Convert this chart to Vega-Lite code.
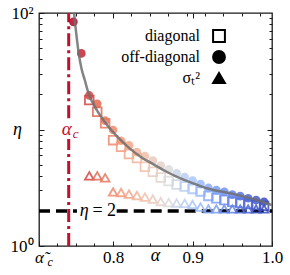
{
  "$schema": "https://vega.github.io/schema/vega-lite/v6.json",
  "width": 233,
  "height": 233,
  "autosize": "none",
  "padding": {"left": 39, "top": 13, "right": 18, "bottom": 29},
  "config": {
    "view": {"stroke": "#1a1a1a", "strokeWidth": 1.3},
    "axis": {"grid": false, "domain": false, "tickColor": "#1a1a1a", "tickWidth": 1, "labelFont": "Liberation Serif", "titleFont": "Liberation Serif", "labelColor": "black", "titleColor": "black", "labelFontSize": 17, "titleFontSize": 18, "titleFontWeight": "normal"},
    "legend": {"labelFont": "Liberation Serif"},
    "text": {"font": "Liberation Serif"}
  },
  "resolve": {"axis": {"x": "independent", "y": "independent"}, "scale": {"shape": "independent", "fill": "independent", "stroke": "independent"}},
  "layer": [
    {
      "data": {"values": [{"alpha": 0.7441, "lo": 1, "hi": 8.3}, {"alpha": 0.7441, "lo": 12.5, "hi": 100}]},
      "mark": {"type": "rule", "color": "#c0102e", "strokeWidth": 3, "strokeDash": [13, 4, 3, 4]},
      "encoding": {
        "x": {"field": "alpha", "type": "quantitative", "scale": {"domain": [0.7067, 1.0], "nice": false, "zero": false},
              "axis": {"orient": "bottom", "values": [0.7299, 0.7531, 0.7763, 0.7996, 0.8228, 0.846, 0.8692, 0.8924, 0.9157, 0.9389, 0.9621, 0.9853], "labels": false, "tickSize": -3, "title": null}},
        "y": {"field": "lo", "type": "quantitative", "scale": {"type": "log", "domain": [1, 100], "nice": false},
              "axis": {"orient": "left", "values": [2, 3, 4, 5, 6, 7, 8, 9, 20, 30, 40, 50, 60, 70, 80, 90], "labels": false, "tickSize": -3, "title": null}},
        "y2": {"field": "hi"}
      }
    },
    {
      "data": {"values": [{"a0": 0.7067, "a1": 0.7545, "eta": 2}, {"a0": 0.8045, "a1": 1.0, "eta": 2}]},
      "mark": {"type": "rule", "color": "black", "strokeWidth": 3.5, "strokeDash": [11, 6]},
      "encoding": {
        "x": {"field": "a0", "type": "quantitative", "scale": {"domain": [0.7067, 1.0], "nice": false, "zero": false},
              "axis": {"orient": "top", "values": [0.7299, 0.7531, 0.7763, 0.7996, 0.8228, 0.846, 0.8692, 0.8924, 0.9157, 0.9389, 0.9621, 0.9853], "labels": false, "tickSize": -3, "title": null}},
        "x2": {"field": "a1"},
        "y": {"field": "eta", "type": "quantitative", "scale": {"type": "log", "domain": [1, 100], "nice": false},
              "axis": {"orient": "right", "values": [2, 3, 4, 5, 6, 7, 8, 9, 20, 30, 40, 50, 60, 70, 80, 90], "labels": false, "tickSize": -3, "title": null}}
      }
    },
    {
      "data": {"values": [
        {"kind": "off-diagonal", "alpha": 0.75, "eta": 84},
        {"kind": "off-diagonal", "alpha": 0.76, "eta": 45},
        {"kind": "off-diagonal", "alpha": 0.77, "eta": 19.6},
        {"kind": "off-diagonal", "alpha": 0.78, "eta": 16.6},
        {"kind": "off-diagonal", "alpha": 0.79, "eta": 11.9},
        {"kind": "off-diagonal", "alpha": 0.80, "eta": 9.9},
        {"kind": "off-diagonal", "alpha": 0.81, "eta": 8.0},
        {"kind": "off-diagonal", "alpha": 0.82, "eta": 7.3},
        {"kind": "off-diagonal", "alpha": 0.83, "eta": 6.4},
        {"kind": "off-diagonal", "alpha": 0.84, "eta": 5.9},
        {"kind": "off-diagonal", "alpha": 0.85, "eta": 5.4},
        {"kind": "off-diagonal", "alpha": 0.86, "eta": 4.9},
        {"kind": "off-diagonal", "alpha": 0.87, "eta": 4.55},
        {"kind": "off-diagonal", "alpha": 0.88, "eta": 4.2},
        {"kind": "off-diagonal", "alpha": 0.89, "eta": 3.9},
        {"kind": "off-diagonal", "alpha": 0.90, "eta": 3.65},
        {"kind": "off-diagonal", "alpha": 0.91, "eta": 3.4},
        {"kind": "off-diagonal", "alpha": 0.92, "eta": 3.15},
        {"kind": "off-diagonal", "alpha": 0.93, "eta": 3.02},
        {"kind": "off-diagonal", "alpha": 0.94, "eta": 2.92},
        {"kind": "off-diagonal", "alpha": 0.95, "eta": 2.76},
        {"kind": "off-diagonal", "alpha": 0.96, "eta": 2.68},
        {"kind": "off-diagonal", "alpha": 0.97, "eta": 2.57},
        {"kind": "off-diagonal", "alpha": 0.98, "eta": 2.48},
        {"kind": "off-diagonal", "alpha": 0.99, "eta": 2.40},
        {"kind": "diagonal", "alpha": 0.77, "eta": 17.9},
        {"kind": "diagonal", "alpha": 0.78, "eta": 14.2},
        {"kind": "diagonal", "alpha": 0.79, "eta": 11.3},
        {"kind": "diagonal", "alpha": 0.80, "eta": 8.1},
        {"kind": "diagonal", "alpha": 0.81, "eta": 7.1},
        {"kind": "diagonal", "alpha": 0.82, "eta": 6.16},
        {"kind": "diagonal", "alpha": 0.83, "eta": 5.69},
        {"kind": "diagonal", "alpha": 0.84, "eta": 4.79},
        {"kind": "diagonal", "alpha": 0.85, "eta": 4.34},
        {"kind": "diagonal", "alpha": 0.86, "eta": 3.87},
        {"kind": "diagonal", "alpha": 0.87, "eta": 3.61},
        {"kind": "diagonal", "alpha": 0.88, "eta": 3.37},
        {"kind": "diagonal", "alpha": 0.89, "eta": 3.24},
        {"kind": "diagonal", "alpha": 0.90, "eta": 3.09},
        {"kind": "diagonal", "alpha": 0.91, "eta": 2.94},
        {"kind": "diagonal", "alpha": 0.92, "eta": 2.69},
        {"kind": "diagonal", "alpha": 0.93, "eta": 2.57},
        {"kind": "diagonal", "alpha": 0.94, "eta": 2.48},
        {"kind": "diagonal", "alpha": 0.95, "eta": 2.40},
        {"kind": "diagonal", "alpha": 0.96, "eta": 2.34},
        {"kind": "diagonal", "alpha": 0.97, "eta": 2.29},
        {"kind": "diagonal", "alpha": 0.98, "eta": 2.25},
        {"kind": "diagonal", "alpha": 0.99, "eta": 2.21},
        {"kind": "σₜ²", "alpha": 0.77, "eta": 4.0},
        {"kind": "σₜ²", "alpha": 0.78, "eta": 4.0},
        {"kind": "σₜ²", "alpha": 0.79, "eta": 3.85},
        {"kind": "σₜ²", "alpha": 0.80, "eta": 2.91},
        {"kind": "σₜ²", "alpha": 0.81, "eta": 2.88},
        {"kind": "σₜ²", "alpha": 0.82, "eta": 2.79},
        {"kind": "σₜ²", "alpha": 0.83, "eta": 2.71},
        {"kind": "σₜ²", "alpha": 0.84, "eta": 2.63},
        {"kind": "σₜ²", "alpha": 0.85, "eta": 2.53},
        {"kind": "σₜ²", "alpha": 0.86, "eta": 2.41},
        {"kind": "σₜ²", "alpha": 0.87, "eta": 2.36},
        {"kind": "σₜ²", "alpha": 0.88, "eta": 2.34},
        {"kind": "σₜ²", "alpha": 0.89, "eta": 2.32},
        {"kind": "σₜ²", "alpha": 0.90, "eta": 2.27},
        {"kind": "σₜ²", "alpha": 0.91, "eta": 2.16},
        {"kind": "σₜ²", "alpha": 0.92, "eta": 2.08},
        {"kind": "σₜ²", "alpha": 0.93, "eta": 2.08},
        {"kind": "σₜ²", "alpha": 0.94, "eta": 2.08},
        {"kind": "σₜ²", "alpha": 0.95, "eta": 2.08},
        {"kind": "σₜ²", "alpha": 0.96, "eta": 2.08},
        {"kind": "σₜ²", "alpha": 0.97, "eta": 2.08},
        {"kind": "σₜ²", "alpha": 0.98, "eta": 2.08},
        {"kind": "σₜ²", "alpha": 0.99, "eta": 2.08}
      ]},
      "mark": {"type": "point", "opacity": 0.85, "strokeWidth": 1.8, "size": 75},
      "encoding": {
        "x": {"field": "alpha", "type": "quantitative", "scale": {"domain": [0.7067, 1.0], "nice": false, "zero": false},
              "axis": {"orient": "bottom", "values": [0.7067, 0.8, 0.9, 1.0], "tickSize": -5, "labelPadding": 8, "labelBaseline": "top", "labelFlush": false, "labelOverlap": false,
                       "labelExpr": "datum.value < 0.75 ? 'α\u0303' : format(datum.value, '.1f')",
                       "labelFontStyle": {"condition": {"test": "datum.value < 0.75", "value": "italic"}, "value": "normal"},
                       "title": "α", "titleFontStyle": "italic", "titleX": 116, "titleY": 14, "titleBaseline": "alphabetic", "titleAlign": "center"}},
        "y": {"field": "eta", "type": "quantitative", "scale": {"type": "log", "domain": [1, 100], "nice": false},
              "axis": {"orient": "left", "values": [1, 10, 100], "tickSize": -5, "labelPadding": 11, "labelFlush": false, "labelOverlap": false,
                       "labelExpr": "datum.value == 1 ? '10⁰' : (datum.value == 100 ? '10²' : '')",
                       "title": "η", "titleAngle": 0, "titleFontStyle": "italic", "titleX": -22, "titleY": 116, "titleAlign": "center", "titleBaseline": "middle"}},
        "shape": {"field": "kind", "type": "nominal",
                  "scale": {"domain": ["diagonal", "off-diagonal", "σₜ²"], "range": ["square", "circle", "triangle-up"]}, "legend": null},
        "fill": {"condition": {"test": "datum.kind !== 'off-diagonal'", "value": "transparent"},
                 "field": "alpha", "type": "quantitative",
                 "scale": {"domain": [0.75, 0.99], "range": ["#b40426", "#e26952", "#f49a7b", "#f1c0a9", "#dddcdc", "#aac7fd", "#7b9ff9", "#5875e0", "#3b4cc0"], "interpolate": "rgb"}, "legend": null},
        "stroke": {"condition": {"test": "datum.kind === 'off-diagonal'", "value": "transparent"},
                   "field": "alpha", "type": "quantitative",
                   "scale": {"domain": [0.75, 0.99], "range": ["#b40426", "#e26952", "#f49a7b", "#f1c0a9", "#dddcdc", "#aac7fd", "#7b9ff9", "#5875e0", "#3b4cc0"], "interpolate": "rgb"}, "legend": null}
      }
    },
    {
      "data": {"values": [{"kind": "diagonal"}, {"kind": "off-diagonal"}, {"kind": "σₜ²"}]},
      "mark": {"type": "point", "filled": true, "opacity": 0, "strokeWidth": 2, "size": 10},
      "encoding": {
        "shape": {"field": "kind", "type": "nominal",
                  "scale": {"domain": ["diagonal", "off-diagonal", "σₜ²"], "range": ["square", "circle", "triangle-up"]},
                  "legend": {"orient": "none", "legendX": 170, "legendY": 15, "title": null, "padding": 0,
                             "labelAlign": "right", "labelOffset": -27, "symbolOffset": 2, "symbolSize": 140, "symbolStrokeWidth": 2,
                             "symbolOpacity": 1,
                             "labelFont": "Liberation Serif", "labelFontSize": 16, "labelColor": "black", "rowPadding": 1}},
        "fill": {"field": "kind", "type": "nominal",
                 "scale": {"domain": ["diagonal", "off-diagonal", "σₜ²"], "range": ["transparent", "black", "black"]},
                 "legend": {"orient": "none", "legendX": 170, "legendY": 15, "title": null, "padding": 0,
                            "labelAlign": "right", "labelOffset": -27, "symbolOffset": 2, "symbolSize": 140, "symbolStrokeWidth": 2,
                            "symbolOpacity": 1,
                            "labelFont": "Liberation Serif", "labelFontSize": 16, "labelColor": "black", "rowPadding": 1}},
        "stroke": {"field": "kind", "type": "nominal",
                   "scale": {"domain": ["diagonal", "off-diagonal", "σₜ²"], "range": ["black", "black", "black"]},
                   "legend": {"orient": "none", "legendX": 170, "legendY": 15, "title": null, "padding": 0,
                              "labelAlign": "right", "labelOffset": -27, "symbolOffset": 2, "symbolSize": 140, "symbolStrokeWidth": 2,
                              "symbolOpacity": 1,
                              "labelFont": "Liberation Serif", "labelFontSize": 16, "labelColor": "black", "rowPadding": 1}}
      }
    },
    {
      "data": {"values": [
        {"alpha": 0.7508, "eta": 100},
        {"alpha": 0.7567, "eta": 45.1},
        {"alpha": 0.7601, "eta": 33.5},
        {"alpha": 0.7643, "eta": 26.6},
        {"alpha": 0.7685, "eta": 21.0},
        {"alpha": 0.7791, "eta": 14.8},
        {"alpha": 0.7895, "eta": 11.6},
        {"alpha": 0.8043, "eta": 8.8},
        {"alpha": 0.8211, "eta": 6.85},
        {"alpha": 0.8358, "eta": 5.75},
        {"alpha": 0.8504, "eta": 5.05},
        {"alpha": 0.8673, "eta": 4.34},
        {"alpha": 0.8841, "eta": 3.82},
        {"alpha": 0.9009, "eta": 3.45},
        {"alpha": 0.9178, "eta": 3.13},
        {"alpha": 0.9509, "eta": 2.8},
        {"alpha": 0.9934, "eta": 2.33},
        {"alpha": 1.0, "eta": 2.25}
      ]},
      "mark": {"type": "line", "color": "#6e6e6e", "strokeWidth": 2.5, "opacity": 0.85, "interpolate": "monotone", "clip": true},
      "encoding": {
        "x": {"field": "alpha", "type": "quantitative", "scale": {"domain": [0.7067, 1.0], "nice": false, "zero": false},
              "axis": {"orient": "top", "values": [0.8, 0.9], "labels": false, "tickSize": -5, "title": null}},
        "y": {"field": "eta", "type": "quantitative", "scale": {"type": "log", "domain": [1, 100], "nice": false},
              "axis": {"orient": "right", "values": [10], "labels": false, "tickSize": -5, "title": null}}
      }
    },
    {
      "data": {"values": [{"alpha": 0.7441, "eta": 10.1}]},
      "mark": {"type": "text", "text": "α", "fontStyle": "italic", "fontSize": 19, "color": "#c0102e", "dx": -2, "baseline": "middle", "align": "center"},
      "encoding": {
        "x": {"field": "alpha", "type": "quantitative", "scale": {"domain": [0.7067, 1.0], "nice": false, "zero": false},
              "axis": {"orient": "bottom", "values": [0.7067], "ticks": false, "labelExpr": "'c'", "labelFontSize": 12, "labelFontStyle": "italic", "labelOffset": 8, "labelPadding": 10, "labelBaseline": "top", "title": null}},
        "y": {"field": "eta", "type": "quantitative", "scale": {"type": "log", "domain": [1, 100], "nice": false}, "axis": null}
      }
    },
    {
      "data": {"values": [{"alpha": 0.7441, "eta": 10.1}]},
      "mark": {"type": "text", "text": "c", "fontStyle": "italic", "fontSize": 13, "color": "#c0102e", "dx": 7, "dy": 5, "baseline": "middle", "align": "center"},
      "encoding": {
        "x": {"field": "alpha", "type": "quantitative", "scale": {"domain": [0.7067, 1.0], "nice": false, "zero": false}, "axis": null},
        "y": {"field": "eta", "type": "quantitative", "scale": {"type": "log", "domain": [1, 100], "nice": false}, "axis": null}
      }
    },
    {
      "data": {"values": [{"alpha": 0.78, "eta": 2}]},
      "mark": {"type": "text", "text": "η", "fontStyle": "italic", "fontSize": 18, "color": "black", "dx": -13, "baseline": "middle", "align": "center"},
      "encoding": {
        "x": {"field": "alpha", "type": "quantitative", "scale": {"domain": [0.7067, 1.0], "nice": false, "zero": false}, "axis": null},
        "y": {"field": "eta", "type": "quantitative", "scale": {"type": "log", "domain": [1, 100], "nice": false}, "axis": null}
      }
    },
    {
      "data": {"values": [{"alpha": 0.78, "eta": 2}]},
      "mark": {"type": "text", "text": "= 2", "fontSize": 18, "color": "black", "dx": 7, "baseline": "middle", "align": "center"},
      "encoding": {
        "x": {"field": "alpha", "type": "quantitative", "scale": {"domain": [0.7067, 1.0], "nice": false, "zero": false}, "axis": null},
        "y": {"field": "eta", "type": "quantitative", "scale": {"type": "log", "domain": [1, 100], "nice": false}, "axis": null}
      }
    }
  ]
}
